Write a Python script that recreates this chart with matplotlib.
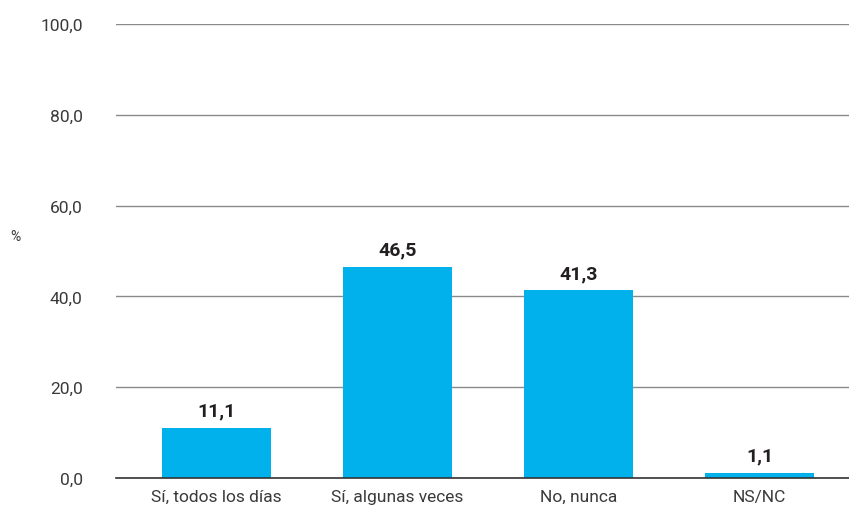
import matplotlib
matplotlib.use("Agg")
import matplotlib.pyplot as plt

categories = ["Sí, todos los días", "Sí, algunas veces", "No, nunca", "NS/NC"]
values = [11.1, 46.5, 41.3, 1.1]
yticks = [0, 20, 40, 60, 80, 100]

BAR = "#00b1eb"
GRID = "#8a8a8a"
TXT = "#3a3a3a"

plt.rcParams["font.family"] = ["Roboto", "DejaVu Sans"]


def fmt(v):
    return f"{v:.1f}".replace(".", ",")


fig = plt.figure(figsize=(8.49, 5.1), dpi=100)
ax = fig.add_axes([116 / 849, 31 / 510, 1 - 116 / 849, (479 - 25) / 510])

x = range(len(categories))
ax.bar(x, values, width=0.6, color=BAR, zorder=3)
for i, v in zip(x, values):
    ax.annotate(fmt(v), (i, v), xytext=(0, 6), textcoords="offset points",
                ha="center", va="bottom", fontsize=14, fontweight="bold",
                color="#231f20")

ax.set_xlim(-0.555, 3.494)
ax.set_ylim(0, 100)
ax.set_yticks(yticks)
ax.set_yticklabels([fmt(t) for t in yticks], fontsize=12.5, color=TXT)
ax.set_xticks(list(x))
ax.set_xticklabels(categories, fontsize=12.5, color=TXT)
ax.tick_params(axis="y", length=0, pad=24)
ax.tick_params(axis="x", length=0, pad=8)
ax.yaxis.grid(True, color=GRID, lw=1, zorder=0)
for s in ("top", "right", "left"):
    ax.spines[s].set_visible(False)
ax.spines["bottom"].set_color("#333333")
ax.spines["bottom"].set_linewidth(1.2)
ax.spines["bottom"].set_zorder(4)

fig.text(15 / 849, 1 - 237 / 510, "%", fontsize=10, color=TXT,
         ha="center", va="center")

fig.savefig("out.png", dpi=100)
